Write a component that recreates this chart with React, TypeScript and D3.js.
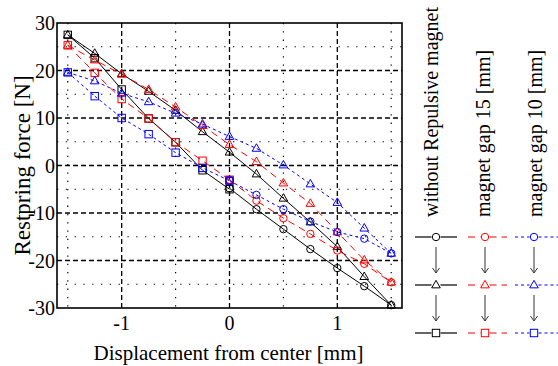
import React from "react";
import * as d3 from "d3";

const circleX = [0, 0.25, 0.5, 0.75, 1, 1.25, 1.5];
const triangleX = [-1.5, -1.25, -1, -0.75, -0.5, -0.25, 0, 0.25, 0.5, 0.75, 1, 1.25, 1.5];
const squareX = [-1.5, -1.25, -1, -0.75, -0.5, -0.25, 0];

const blackCircles = [-4.8, -9.2, -13.4, -17.6, -21.6, -25.4, -29.4];
const blackTriangles = [27.5, 23.6, 19.3, 15.6, 11.6, 7.1, 2.8, -1.8, -6.9, -11.9, -17.1, -23.4, -29.4];
const blackSquares = [27.5, 22.6, 16.0, 9.9, 4.9, -1.0, -5.0];

const redCircles = [-3.0, -7.4, -11.1, -14.4, -17.9, -20.7, -24.6];
const redTriangles = [25.3, 22.2, 19.2, 16.0, 12.3, 8.4, 4.4, 0.8, -3.7, -8.0, -14.0, -19.9, -24.6];
const redSquares = [25.3, 19.5, 14.0, 9.9, 4.9, 1.0, -3.0];

const blueCircles = [-3.2, -6.2, -9.2, -11.8, -14.0, -15.4, -18.5];
const blueTriangles = [19.6, 17.8, 15.2, 13.4, 11.0, 8.7, 6.1, 3.6, 0.1, -3.9, -7.8, -13.2, -18.5];
const blueSquares = [19.6, 14.6, 10.0, 6.6, 2.7, -0.5, -3.2];

const xTicks = [-1, 0, 1];
const xMinor = [-1.5, -0.5, 0.5, 1.5];
const yTicks = [-30, -20, -10, 0, 10, 20, 30];
const yMinor = [-25, -15, -5, 5, 15, 25];

const legendLabels = ["without Repulsive magnet", "magnet gap 15 [mm]", "magnet gap 10 [mm]"];

const seriesDefs = [
  { color: "#000000", dash: "none", circles: blackCircles, triangles: blackTriangles, squares: blackSquares },
  { color: "#ff0000", dash: "7,5", circles: redCircles, triangles: redTriangles, squares: redSquares },
  { color: "#0000ff", dash: "3,3", circles: blueCircles, triangles: blueTriangles, squares: blueSquares },
];

const FONT = "'Liberation Serif', 'Times New Roman', serif";

function Marker({ kind, x, y, color }: { kind: string; x: number; y: number; color: string }) {
  if (kind === "circle") return <circle cx={x} cy={y} r={3.7} fill="none" stroke={color} strokeWidth={1} />;
  if (kind === "square") return <rect x={x - 3.7} y={y - 3.7} width={7.4} height={7.4} fill="none" stroke={color} strokeWidth={1} />;
  const h = 7.5, w = 8.6;
  return (
    <path
      d={`M${x},${y - h * 0.62} L${x + w / 2},${y + h * 0.38} L${x - w / 2},${y + h * 0.38} Z`}
      fill="none"
      stroke={color}
      strokeWidth={1}
    />
  );
}

export default function App() {
  const L = 57, R = 402, T = 23, B = 308;
  const x = d3.scaleLinear().domain([-1.6, 1.6]).range([L, R]);
  const y = d3.scaleLinear().domain([-30, 30]).range([B, T]);
  const line = d3.line<[number, number]>().x((d) => x(d[0])).y((d) => y(d[1]));

  const legendCols = [436, 485, 534];
  const legendLines = [[415, 457], [468, 507], [515, 558]];
  const legendTextX = [438, 490, 542];
  const rows = [237, 285, 333];
  const kinds = ["circle", "triangle", "square"];

  return (
    <svg width={558} height={366} style={{ position: "absolute", left: 0, top: 0, background: "#fff" }} fontFamily={FONT}>
      {/* grid */}
      {xMinor.map((v) => (
        <line key={"xm" + v} x1={x(v)} x2={x(v)} y1={T} y2={B} stroke="#000" strokeWidth={1.2} strokeDasharray="1.3,7" />
      ))}
      {yMinor.map((v) => (
        <line key={"ym" + v} x1={L} x2={R} y1={y(v)} y2={y(v)} stroke="#000" strokeWidth={1.2} strokeDasharray="1.3,7.5" />
      ))}
      {xTicks.map((v) => (
        <line key={"xg" + v} x1={x(v)} x2={x(v)} y1={T} y2={B} stroke="#000" strokeWidth={1.3} strokeDasharray="5,3" />
      ))}
      {yTicks.slice(1, -1).map((v) => (
        <line key={"yg" + v} x1={L} x2={R} y1={y(v)} y2={y(v)} stroke="#000" strokeWidth={1.3} strokeDasharray="5,3" />
      ))}

      {/* series */}
      {seriesDefs.map((s, i) => {
        const c = circleX.map((xv, j) => [xv, s.circles[j]] as [number, number]);
        const t = triangleX.map((xv, j) => [xv, s.triangles[j]] as [number, number]);
        const q = squareX.map((xv, j) => [xv, s.squares[j]] as [number, number]);
        return (
          <g key={"s" + i}>
            {[c, t, q].map((pts, k) => (
              <path key={k} d={line(pts) || ""} fill="none" stroke={s.color} strokeWidth={1} strokeDasharray={s.dash} />
            ))}
            {c.map((p, j) => <Marker key={"c" + j} kind="circle" x={x(p[0])} y={y(p[1])} color={s.color} />)}
            {t.map((p, j) => <Marker key={"t" + j} kind="triangle" x={x(p[0])} y={y(p[1])} color={s.color} />)}
            {q.map((p, j) => <Marker key={"q" + j} kind="square" x={x(p[0])} y={y(p[1])} color={s.color} />)}
          </g>
        );
      })}

      {/* frame */}
      <rect x={L} y={T} width={R - L} height={B - T} fill="none" stroke="#000" strokeWidth={1.6} />

      {/* ticks labels */}
      {yTicks.map((v) => (
        <text key={"yl" + v} x={L - 2} y={y(v)} dy="0.35em" textAnchor="end" fontSize={20}>
          {v}
        </text>
      ))}
      {xTicks.map((v) => (
        <text key={"xl" + v} x={x(v)} y={330} textAnchor="middle" fontSize={20}>
          {v}
        </text>
      ))}
      <text x={(L + R) / 2 - 1} y={360} textAnchor="middle" fontSize={21}>
        Displacement from center [mm]
      </text>
      <text transform={`translate(30,${(T + B) / 2}) rotate(-90)`} textAnchor="middle" fontSize={23}>
        Restpring force [N]
      </text>

      {/* legend */}
      {seriesDefs.map((s, i) => (
        <g key={"lg" + i}>
          <text transform={`translate(${legendTextX[i]},217) rotate(-90)`} fontSize={20}>
            {legendLabels[i]}
          </text>
          {rows.map((ry, k) => (
            <g key={k}>
              <line x1={legendLines[i][0]} x2={legendCols[i] - 4.5} y1={ry} y2={ry} stroke={s.color} strokeWidth={1.2} strokeDasharray={s.dash} />
              <line x1={legendCols[i] + 4.5} x2={legendLines[i][1]} y1={ry} y2={ry} stroke={s.color} strokeWidth={1.2} strokeDasharray={s.dash} />
              <Marker kind={kinds[k]} x={legendCols[i]} y={ry} color={s.color} />
            </g>
          ))}
          {[0, 1].map((k) => {
            const ax = legendCols[i];
            const y1 = rows[k] + 10, y2 = rows[k + 1] - 12;
            return (
              <g key={"ar" + k} stroke="#333" strokeWidth={1} fill="none">
                <line x1={ax} x2={ax} y1={y1} y2={y2} />
                <path d={`M${ax - 3.5},${y2 - 5} L${ax},${y2} L${ax + 3.5},${y2 - 5}`} />
              </g>
            );
          })}
        </g>
      ))}
    </svg>
  );
}
